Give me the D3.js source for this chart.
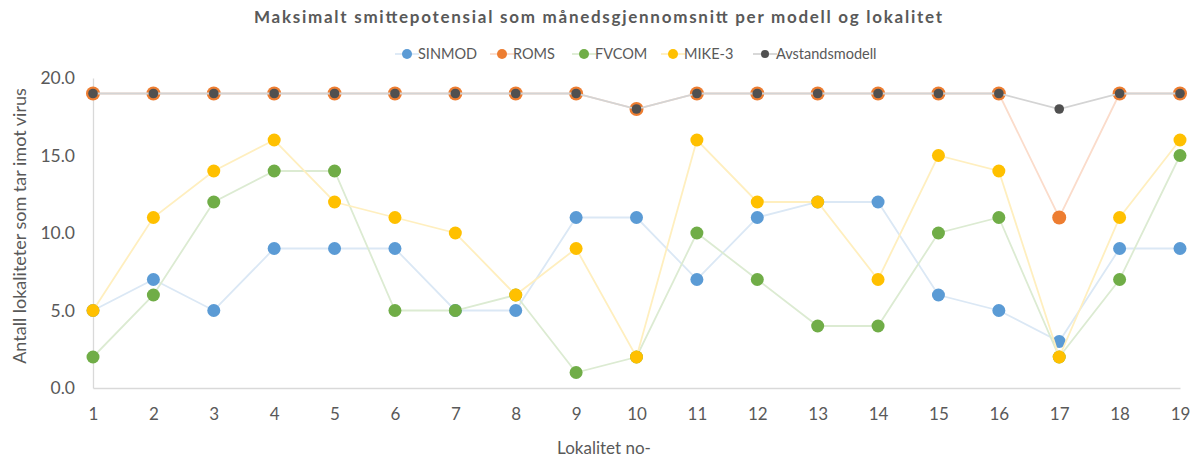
<!DOCTYPE html>
<html>
<head>
<meta charset="utf-8">
<script src="https://cdn.jsdelivr.net/npm/d3@7/dist/d3.min.js"></script>
<style>
  html, body { margin: 0; padding: 0; background: #fff; }
  svg { display: block; font-family: Lato, "Open Sans", sans-serif; }
</style>
</head>
<body>
<svg id="chart" width="1200" height="459"></svg>
<script>
// Localities 1..19
const localities = d3.range(1, 20);

// Maximum infection potential per model (monthly mean)
const sinmod = [5, 7, 5, 9, 9, 9, 5, 5, 11, 11, 7, 11, 12, 12, 6, 5, 3, 9, 9];
const roms   = [19, 19, 19, 19, 19, 19, 19, 19, 19, 18, 19, 19, 19, 19, 19, 19, 11, 19, 19];
const fvcom  = [2, 6, 12, 14, 14, 5, 5, 6, 1, 2, 10, 7, 4, 4, 10, 11, 2, 7, 15];
const mike3  = [5, 11, 14, 16, 12, 11, 10, 6, 9, 2, 16, 12, 12, 7, 15, 14, 2, 11, 16];
const avstand = [19, 19, 19, 19, 19, 19, 19, 19, 19, 18, 19, 19, 19, 19, 19, 19, 18, 19, 19];

const yTicks = [0, 5, 10, 15, 20];

const seriesNames = ["SINMOD", "ROMS", "FVCOM", "MIKE-3", "Avstandsmodell"];
const seriesColors = ["#5B9BD5", "#ED7D31", "#70AD47", "#FFC000", "#505050"];
const seriesLineColors = ["#dbe8f5", "#fbdccb", "#dcebd2", "#ffefbf", "#d4d4d4"];
const seriesRadius = [6.5, 7, 6.5, 6.5, 4.8];
const seriesValues = [sinmod, roms, fvcom, mike3, avstand];

const svg = d3.select("#chart");
const textColor = "#595959";

const x = d3.scaleLinear().domain([1, 19]).range([93, 1180]);
const y = d3.scaleLinear().domain([0, 20]).range([388, 78]);

// Title
svg.append("text")
  .attr("x", 598).attr("y", 23)
  .attr("text-anchor", "middle")
  .attr("font-size", 17).attr("font-weight", "bold")
  .attr("fill", textColor)
  .attr("textLength", 688).attr("lengthAdjust", "spacing")
  .text("Maksimalt smittepotensial som månedsgjennomsnitt per modell og lokalitet");

// Axes
const yAxis = d3.axisLeft(y).tickValues(yTicks).tickSize(0).tickPadding(18)
  .tickFormat(d3.format(".1f"));
svg.append("g").attr("transform", "translate(93,0)").call(yAxis)
  .call(g => g.select(".domain").attr("stroke", "#d9d9d9").attr("stroke-width", 1.3))
  .call(g => g.selectAll("text").attr("font-size", 17.5).attr("fill", textColor)
    .attr("font-family", "Lato, 'Open Sans', sans-serif"));

const xAxis = d3.axisBottom(x).tickValues(localities).tickSize(0).tickPadding(20)
  .tickFormat(d3.format("d"));
svg.append("g").attr("transform", "translate(0,388)").call(xAxis)
  .call(g => g.select(".domain").attr("stroke", "#d9d9d9").attr("stroke-width", 1.3))
  .call(g => g.selectAll("text").attr("font-size", 17).attr("fill", textColor)
    .attr("font-family", "Lato, 'Open Sans', sans-serif"));

// Axis titles
svg.append("text")
  .attr("transform", "translate(26,226) rotate(-90)")
  .attr("text-anchor", "middle")
  .attr("font-size", 18).attr("fill", textColor)
  .text("Antall lokaliteter som tar imot virus");

svg.append("text")
  .attr("x", 604).attr("y", 454)
  .attr("text-anchor", "middle")
  .attr("font-size", 17).attr("fill", textColor)
  .text("Lokalitet no-");

// Series
const line = d3.line().x((d, i) => x(localities[i])).y(d => y(d));
seriesValues.forEach((vals, s) => {
  const g = svg.append("g");
  g.append("path").datum(vals)
    .attr("d", line)
    .attr("fill", "none")
    .attr("stroke", seriesLineColors[s])
    .attr("stroke-width", 1.8);
  g.selectAll("circle").data(vals).join("circle")
    .attr("cx", (d, i) => x(localities[i]))
    .attr("cy", d => y(d))
    .attr("r", seriesRadius[s])
    .attr("fill", seriesColors[s]);
});

// Legend
const legendX = [407, 502, 584, 673, 765];
const legend = svg.append("g");
seriesNames.forEach((name, s) => {
  const cx = legendX[s];
  legend.append("line")
    .attr("x1", cx - 12).attr("x2", cx + 12)
    .attr("y1", 54).attr("y2", 54)
    .attr("stroke", seriesLineColors[s]).attr("stroke-width", 1.8);
  legend.append("circle")
    .attr("cx", cx).attr("cy", 54)
    .attr("r", s === 4 ? 4 : 5)
    .attr("fill", seriesColors[s]);
  legend.append("text")
    .attr("x", cx + 11).attr("y", 59)
    .attr("font-size", 14.5).attr("fill", textColor)
    .text(name);
});
</script>
</body>
</html>
